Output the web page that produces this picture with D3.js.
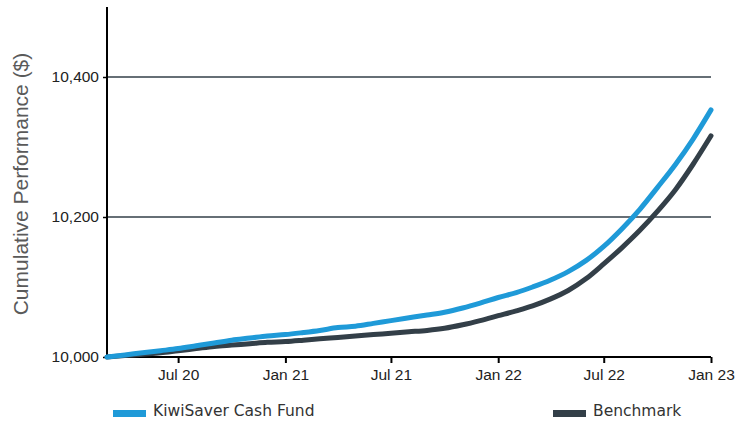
<!DOCTYPE html>
<html><head><meta charset="utf-8">
<script src="https://cdn.jsdelivr.net/npm/d3@7"></script>
<style>
html,body{margin:0;padding:0;background:#fff;}
svg{display:block;}
</style></head>
<body>
<svg id="chart" width="753" height="421"></svg>
<script>
const dates = ["2020-03-01","2020-04-01","2020-05-01","2020-06-01","2020-07-01","2020-08-01","2020-09-01","2020-10-01","2020-11-01","2020-12-01",
"2021-01-01","2021-02-01","2021-03-01","2021-04-01","2021-05-01","2021-06-01","2021-07-01","2021-08-01","2021-09-01","2021-10-01","2021-11-01","2021-12-01",
"2022-01-01","2022-02-01","2022-03-01","2022-04-01","2022-05-01","2022-06-01","2022-07-01","2022-08-01","2022-09-01","2022-10-01","2022-11-01","2022-12-01",
"2023-01-01"];
const fundValues = [10000,10003,10006,10009,10012,10016,10020,10024,10027,10030,
10032,10035,10038,10042,10044,10048,10052,10056,10060,10064,10070,10077,
10085,10092,10100,10110,10122,10138,10158,10183,10211,10242,10275,10311,
10353];
const benchValues = [10000,10002,10004,10006,10009,10012,10015,10017,10019,10021,
10022,10024,10026,10028,10030,10032,10034,10036,10038,10041,10046,10052,
10059,10066,10073,10083,10095,10112,10133,10156,10181,10208,10239,10275,
10316];
const xTickDates = ["2020-07-01","2021-01-01","2021-07-01","2022-01-01","2022-07-01","2023-01-01"];
const xTickLabels = ["Jul 20","Jan 21","Jul 21","Jan 22","Jul 22","Jan 23"];
const yTicks = [10000,10200,10400];
const seriesNames = ["KiwiSaver Cash Fund","Benchmark"];
const seriesColors = ["#1f9ad8","#333f48"];

(function(){
const parse = d3.timeParse("%Y-%m-%d");
const svg = d3.select("#chart");
const pl = 107, pr = 711, pt = 7, pb = 357;

const x = d3.scaleTime().domain([parse(dates[0]), parse(dates[dates.length-1])]).range([pl, pr]);
const y = d3.scaleLinear().domain([10000, 10500]).range([pb, pt]);

// gridlines
svg.append("g").selectAll("line").data(yTicks.filter(v => v > 10000)).join("line")
  .attr("x1", pl).attr("x2", pr)
  .attr("y1", d => y(d)).attr("y2", d => y(d))
  .attr("stroke", "#333f48").attr("stroke-width", 1.5);

// y axis
const yAxis = svg.append("g").attr("transform", `translate(${pl},0)`)
  .call(d3.axisLeft(y).tickValues(yTicks).tickFormat(d3.format(",")).tickSize(4).tickPadding(4));
yAxis.select(".domain").attr("stroke", "#000").attr("stroke-width", 2).attr("d", `M0,${pt}V${pb}`);
yAxis.selectAll(".tick line").attr("stroke", "#000").attr("stroke-width", 1.5);
yAxis.selectAll("text").attr("font-family", "'Liberation Sans', Arial, sans-serif").attr("font-size", 15.5).attr("fill", "#222");

// x axis
const xAxis = svg.append("g").attr("transform", `translate(0,${pb})`)
  .call(d3.axisBottom(x).tickValues(xTickDates.map(parse)).tickFormat((d,i) => xTickLabels[i]).tickSize(6).tickPadding(6));
xAxis.select(".domain").attr("stroke", "#000").attr("stroke-width", 2).attr("d", `M${pl},0H${pr}`);
xAxis.selectAll(".tick line").attr("stroke", "#000").attr("stroke-width", 2);
xAxis.selectAll("text").attr("font-family", "'Liberation Sans', Arial, sans-serif").attr("font-size", 15.5).attr("fill", "#222");

// y title
svg.append("text")
  .attr("transform", `translate(28,184) rotate(-90)`)
  .attr("text-anchor", "middle")
  .attr("font-family", "'Liberation Sans', Arial, sans-serif")
  .attr("font-size", 21).attr("fill", "#5a5a5a")
  .text("Cumulative Performance ($)");

// lines
const line = d3.line().x(d => x(d.date)).y(d => y(d.value)).curve(d3.curveMonotoneX);
const series = [benchValues, fundValues].map((vals, k) => ({
  color: k === 0 ? seriesColors[1] : seriesColors[0],
  pts: vals.map((v, i) => ({date: parse(dates[i]), value: v}))
}));
svg.append("g").selectAll("path").data(series).join("path")
  .attr("d", d => line(d.pts))
  .attr("fill", "none").attr("stroke", d => d.color)
  .attr("stroke-width", 5).attr("stroke-linecap", "round").attr("stroke-linejoin", "round");

// legend
const legendX = [113, 553];
const lg = svg.append("g").selectAll("g").data(seriesNames).join("g")
  .attr("transform", (d,i) => `translate(${legendX[i]},0)`);
lg.append("rect").attr("x", 0).attr("y", 410).attr("width", 33).attr("height", 7)
  .attr("fill", (d,i) => seriesColors[i]);
lg.append("text").attr("x", 40).attr("y", 416)
  .attr("font-family", "'DejaVu Sans', sans-serif").attr("font-size", 15.5).attr("fill", "#333")
  .text(d => d);
})();
</script>
</body></html>
